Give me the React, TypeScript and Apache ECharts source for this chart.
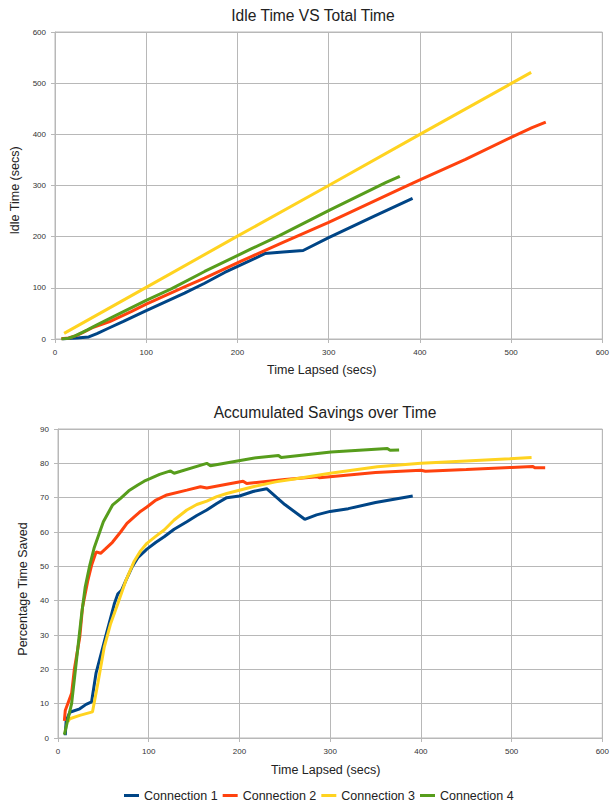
import React, { useEffect, useRef } from "react";
import * as echarts from "echarts";

const seriesNames = ["Connection 1", "Connection 2", "Connection 3", "Connection 4"];
const seriesColors = ["#004586", "#ff420e", "#ffd320", "#579d1c"];

// Top chart: idle time (secs) vs time lapsed (secs)
const idleC1: [number, number][] = [
  [8, 0.1], [13, 1], [24, 2], [37, 4], [46, 10.5], [58, 20.5], [75, 34.5], [100, 55.5],
  [142, 89.5], [164, 109], [186, 130], [215, 154], [230, 167], [250, 170], [272, 173],
  [300, 198], [350, 240], [392, 275],
];
const idleC2: [number, number][] = [
  [7, 0.4], [15, 2], [24, 7], [33, 15], [42, 23], [60, 34], [84, 54], [100, 68],
  [142, 102], [164, 119], [204, 152], [250, 189], [300, 228], [378, 293], [400, 311],
  [450, 351], [500, 394], [523, 413], [538, 424],
];
const idleC3: [number, number][] = [
  [10, 11], [100, 101], [200, 201], [300, 300], [400, 400], [522, 521],
];
const idleC4: [number, number][] = [
  [7, 0.1], [15, 1.5], [22, 6], [30, 13], [35, 17.5], [46, 27.5], [69, 48], [100, 75.5],
  [128, 98.5], [164, 132], [215, 176], [246, 202], [301, 252], [363, 306], [378, 318],
];

// Bottom chart: percentage time saved vs time lapsed (secs)
const savC1: [number, number][] = [
  [8, 0.8], [9, 5], [13, 7.5], [24, 8.5], [31, 9.8], [37, 10.5], [42, 19], [46, 23],
  [53, 30], [58, 35], [62, 39], [66, 42], [70, 43], [75, 46], [82, 50], [88, 52.5],
  [98, 55], [108, 57], [117, 58.6], [128, 60.8], [142, 63], [153, 64.8], [164, 66.4],
  [175, 68.3], [186, 70], [200, 70.5], [215, 71.8], [230, 72.6], [250, 68],
  [272, 63.7], [285, 65], [300, 66], [320, 66.8], [350, 68.6], [391, 70.5],
];
const savC2: [number, number][] = [
  [7, 5], [8, 8], [15, 13], [18, 20], [24, 29.4], [27, 38], [33, 46], [37, 50.3],
  [42, 54.2], [47, 53.8], [52, 55], [60, 57], [69, 60], [76, 62.5], [84, 64.4],
  [90, 65.8], [98, 67.3], [108, 69.3], [120, 70.8], [142, 72.2], [157, 73.2],
  [164, 72.8], [186, 73.9], [204, 74.8], [208, 74.1], [250, 75.3], [286, 76.1],
  [288, 75.8], [350, 77.3], [400, 78], [405, 77.7], [450, 78.2], [500, 78.8],
  [523, 79.1], [526, 78.7], [537, 78.7],
];
const savC3: [number, number][] = [
  [11, 4.7], [13, 5.6], [24, 6.6], [38, 7.6], [44, 16], [51, 26.5], [58, 33.3],
  [66, 39.2], [75, 46], [84, 51.5], [91, 54.5], [98, 56.7], [108, 58.8], [117, 60.6],
  [128, 63.5], [142, 66.4], [153, 68], [164, 69], [175, 70.3], [186, 71.2],
  [215, 73.2], [240, 74.6], [264, 75.6], [300, 77.1], [352, 79], [400, 80],
  [450, 80.7], [498, 81.3], [522, 81.7],
];
const savC4: [number, number][] = [
  [7, 1], [15, 10], [18, 17], [22, 26.5], [26, 36], [30, 44], [35, 50.3], [40, 55.5],
  [46, 60], [50, 63], [55, 65.4], [60, 67.8], [69, 69.8], [78, 72], [88, 73.7],
  [95, 74.8], [102, 75.6], [112, 76.8], [124, 77.8], [128, 77.1], [164, 80],
  [168, 79.3], [215, 81.5], [243, 82.3], [246, 81.7], [301, 83.3], [363, 84.3],
  [366, 83.8], [376, 83.9],
];

const topTitle = "Idle Time VS Total Time";
const bottomTitle = "Accumulated Savings over Time";
const xName = "Time Lapsed (secs)";
const topYName = "Idle Time (secs)";
const bottomYName = "Percentage Time Saved";

const FONT = "Liberation Sans, Arial, sans-serif";
const GRID_COLOR = "#b8b8b8";

export default function App() {
  const ref = useRef<HTMLDivElement>(null);

  useEffect(() => {
    document.body.style.margin = "0";
    if (!ref.current) return;
    const chart = echarts.init(ref.current, null, { renderer: "svg" });

    const makeX = (gridIndex: number, namePadRight: number, nameGap: number) => ({
      type: "value",
      gridIndex,
      min: 0,
      max: 600,
      interval: 100,
      name: xName,
      nameLocation: "middle",
      nameGap,
      nameTextStyle: {
        fontFamily: FONT,
        fontSize: 12.5,
        color: "#222",
        padding: [0, namePadRight, 0, 0],
      },
      axisLine: { show: true, lineStyle: { color: GRID_COLOR, width: 1 } },
      axisTick: { show: true, length: 4, lineStyle: { color: GRID_COLOR } },
      axisLabel: { fontFamily: FONT, fontSize: 8, color: "#333", margin: 9 },
      splitLine: { show: true, lineStyle: { color: GRID_COLOR, width: 1 } },
    });

    const makeY = (
      gridIndex: number,
      max: number,
      interval: number,
      name: string,
      nameGap: number,
      padRight: number
    ) => ({
      type: "value",
      gridIndex,
      min: 0,
      max,
      interval,
      name,
      nameLocation: "middle",
      nameGap,
      nameTextStyle: {
        fontFamily: FONT,
        fontSize: 12.5,
        color: "#222",
        padding: [0, padRight, 0, 0],
      },
      axisLine: { show: true, lineStyle: { color: GRID_COLOR, width: 1 } },
      axisTick: { show: true, length: 4, lineStyle: { color: GRID_COLOR } },
      axisLabel: { fontFamily: FONT, fontSize: 8, color: "#333", margin: 9 },
      splitLine: { show: true, lineStyle: { color: GRID_COLOR, width: 1 } },
    });

    const topData = [idleC1, idleC2, idleC3, idleC4];
    const bottomData = [savC1, savC2, savC3, savC4];

    const series: any[] = [];
    topData.forEach((d, i) => {
      series.push({
        name: seriesNames[i],
        type: "line",
        xAxisIndex: 0,
        yAxisIndex: 0,
        data: d,
        showSymbol: false,
        symbol: "none",
        color: seriesColors[i],
        lineStyle: { width: 3, color: seriesColors[i] },
      });
    });
    bottomData.forEach((d, i) => {
      series.push({
        name: seriesNames[i],
        type: "line",
        xAxisIndex: 1,
        yAxisIndex: 1,
        data: d,
        showSymbol: false,
        symbol: "none",
        color: seriesColors[i],
        lineStyle: { width: 3, color: seriesColors[i] },
      });
    });

    chart.setOption({
      animation: false,
      backgroundColor: "#ffffff",
      title: [
        {
          text: topTitle,
          left: 308,
          top: 2,
          textAlign: "center",
          textStyle: { fontFamily: FONT, fontSize: 15.6, fontWeight: "normal", color: "#222" },
        },
        {
          text: bottomTitle,
          left: 320,
          top: 399,
          textAlign: "center",
          textStyle: { fontFamily: FONT, fontSize: 15.6, fontWeight: "normal", color: "#222" },
        },
      ],
      legend: {
        data: seriesNames,
        left: 124,
        top: 789,
        padding: 0,
        icon: "rect",
        itemWidth: 15,
        itemHeight: 3,
        itemGap: 5,
        textStyle: { fontFamily: FONT, fontSize: 12.5, color: "#222" },
      },
      grid: [
        {
          left: 55,
          top: 32,
          width: 548,
          height: 307,
          show: true,
          borderColor: GRID_COLOR,
          borderWidth: 1,
          backgroundColor: "transparent",
        },
        {
          left: 58,
          top: 429,
          width: 548,
          height: 309,
          show: true,
          borderColor: GRID_COLOR,
          borderWidth: 1,
          backgroundColor: "transparent",
        },
      ],
      xAxis: [makeX(0, 14, 24), makeX(1, 9, 25)],
      yAxis: [
        makeY(0, 600, 100, topYName, 33, 10),
        makeY(1, 90, 10, bottomYName, 29, 11),
      ],
      series,
    });

    return () => {
      chart.dispose();
    };
  }, []);

  return (
    <div
      ref={ref}
      style={{ position: "absolute", left: 0, top: 0, width: 612, height: 805 }}
    />
  );
}
